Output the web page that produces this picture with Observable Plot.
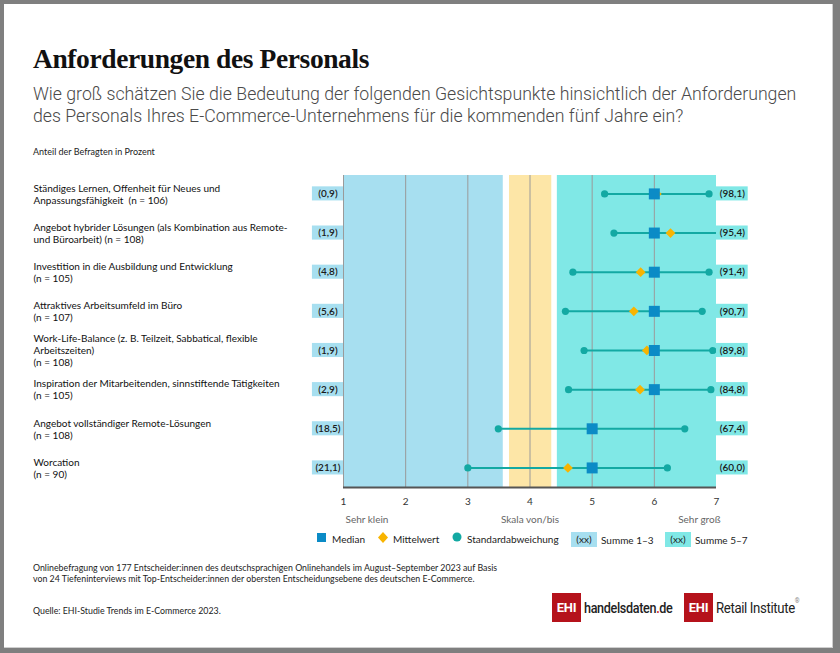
<!DOCTYPE html>
<html>
<head>
<meta charset="utf-8">
<script src="https://cdn.jsdelivr.net/npm/d3@7"></script>
<script src="https://cdn.jsdelivr.net/npm/@observablehq/plot@0.6"></script>
<style>
  body { margin: 0; background: #7f7f7f; }
  #page { position: relative; width: 840px; height: 653px; overflow: hidden; background: #7f7f7f; }
  #panel { position: absolute; left: 4px; top: 4px; width: 828px; height: 643px; background: #fff; border-right: 1px solid #cfcfcf; border-bottom: 1px solid #cfcfcf; }
  .abs { position: absolute; white-space: nowrap; }
  #title { left: 33px; top: 45px; font: bold 27.5px/27px "Liberation Serif", serif; color: #111; letter-spacing: -0.4px; }
  #subtitle { left: 33px; top: 83px; font: 300 17.7px/22px Roboto, sans-serif; color: #4a4a4a; }
  #unit { left: 33px; top: 146px; font: 9px/11px Lato, sans-serif; color: #222; }
  #chart { position: absolute; left: 0; top: 160px; }
  #legend { left: 0; top: 530px; width: 840px; height: 18px; font: 10px Lato, sans-serif; color: #222; }
  .lg { position: absolute; top: 0; line-height: 18px; }
  #foot1 { left: 33px; top: 562px; font: 8.8px/11px Lato, sans-serif; color: #222; }
  #source { left: 33px; top: 605px; font: 8.8px/11px Lato, sans-serif; color: #222; }
  .ehi { position: absolute; top: 593px; width: 29px; height: 29px; background: #b5121b; color: #fff; font: bold 13px/29px Roboto, sans-serif; text-align: center; letter-spacing: -0.3px; }
  .logotext { position: absolute; top: 596px; font: 500 15px/24px Roboto, sans-serif; color: #222; letter-spacing: -0.4px; transform-origin: left center; }
</style>
</head>
<body>
<div id="page">
  <div id="panel"></div>
  <div id="title" class="abs">Anforderungen des Personals</div>
  <div id="subtitle" class="abs">Wie groß schätzen Sie die Bedeutung der folgenden Gesichtspunkte hinsichtlich der Anforderungen<br>des Personals Ihres E-Commerce-Unternehmens für die kommenden fünf Jahre ein?</div>
  <div id="unit" class="abs">Anteil der Befragten in Prozent</div>
  <div id="chart"></div>
  <div id="legend" class="abs"></div>
  <div id="foot1" class="abs">Onlinebefragung von 177 Entscheider:innen des deutschsprachigen Onlinehandels im August–September 2023 auf Basis<br>von 24 Tiefeninterviews mit Top-Entscheider:innen der obersten Entscheidungsebene des deutschen E-Commerce.</div>
  <div id="source" class="abs">Quelle: EHI-Studie Trends im E-Commerce 2023.</div>
  <div class="ehi" style="left:552px">EHI</div>
  <div class="logotext" style="left:584px;transform:scaleX(0.84)">handelsdaten<span style="color:#c8141e">.</span>de</div>
  <div class="ehi" style="left:684px">EHI</div>
  <div class="logotext" style="left:716px;font-weight:400;transform:scaleX(0.88)">Retail Institute<sup style="font-size:7px;color:#888;vertical-align:top;line-height:10px">®</sup></div>
</div>
<script>
// ---- data ----
const categories = [
  "Ständiges Lernen, Offenheit für Neues und\nAnpassungsfähigkeit  (n = 106)",
  "Angebot hybrider Lösungen (als Kombination aus Remote-\nund Büroarbeit) (n = 108)",
  "Investition in die Ausbildung und Entwicklung\n(n = 105)",
  "Attraktives Arbeitsumfeld im Büro\n(n = 107)",
  "Work-Life-Balance (z. B. Teilzeit, Sabbatical, flexible\nArbeitszeiten)\n(n = 108)",
  "Inspiration der Mitarbeitenden, sinnstiftende Tätigkeiten\n(n = 105)",
  "Angebot vollständiger Remote-Lösungen\n(n = 108)",
  "Worcation\n(n = 90)"
];
const median = [6, 6, 6, 6, 6, 6, 5, 5];
const mean   = [6.04, 6.26, 5.78, 5.67, 5.88, 5.77, 4.99, 4.61];
const sdLow  = [5.20, 5.35, 4.69, 4.57, 4.87, 4.62, 3.49, 3.00];
const sdHigh = [6.88, 7.17, 6.88, 6.77, 6.94, 6.91, 6.49, 6.21];
const sum1to3 = [0.9, 1.9, 4.8, 5.6, 1.9, 2.9, 18.5, 21.1];
const sum5to7 = [98.1, 95.4, 91.4, 90.7, 89.8, 84.8, 67.4, 60.0];
const xTicks = [1, 2, 3, 4, 5, 6, 7];
const gridLines = [1, 2, 3, 4, 5, 6];
const scaleNotes = ["Sehr klein", "Skala von/bis", "Sehr groß"];
const scaleNoteAt = [1, 4, 7];
const bandNames = ["Summe 1–3", "Skala von/bis", "Summe 5–7"];
const bandFrom = [1, 3.67, 4.44];
const bandTo = [3.57, 4.35, 7];
const legendItems = ["Median", "Mittelwert", "Standardabweichung", "Summe 1–3", "Summe 5–7"];

// ---- colours ----
const C = {
  blueBand: "#a7dff0", yellowBand: "#fde6a7", tealBand: "#80e8e6",
  median: "#0b8bc6", mean: "#f8b400", sd: "#13a9a3", grid: "#9a9a9a", axis: "#555"
};

const rows = categories.map((c, i) => ({
  i, label: c, median: median[i], mean: mean[i], lo: sdLow[i], hi: sdHigh[i],
  s13: sum1to3[i], s57: sum5to7[i]
}));
const bands = bandNames.map((n, i) => ({name: n, x1: bandFrom[i], x2: bandTo[i]}));
const fmt = v => "(" + v.toFixed(1).replace(".", ",") + ")";
const bottom = 7.5;

const chart = Plot.plot({
  width: 840, height: 400,
  marginLeft: 343, marginRight: 124, marginTop: 15, marginBottom: 73,
  style: {fontFamily: "Lato, sans-serif", fontSize: "10px", background: "transparent", overflow: "visible"},
  x: {domain: [1, 7], axis: null},
  y: {domain: [bottom, -0.47], axis: null},
  color: {domain: bandNames, range: [C.blueBand, C.yellowBand, C.tealBand]},
  marks: [
    Plot.rect(bands, {x1: "x1", x2: "x2", fill: "name"}),
    Plot.ruleX(gridLines, {stroke: C.grid, strokeWidth: 1}),
    Plot.ruleY([bottom], {stroke: C.axis, strokeWidth: 2}),
    // value boxes
    Plot.rect(rows, {x1: 0.5, x2: 1, y1: d => d.i - 0.18, y2: d => d.i + 0.18, fill: C.blueBand}),
    Plot.rect(rows, {x1: 7, x2: 7.51, y1: d => d.i - 0.18, y2: d => d.i + 0.18, fill: C.tealBand}),
    Plot.text(rows, {x: () => 0.75, y: "i", text: d => fmt(d.s13), fontWeight: 600, fill: "#1a1a1a"}),
    Plot.text(rows, {x: () => 7.255, y: "i", text: d => fmt(d.s57), fontWeight: 600, fill: "#1a1a1a"}),
    // category labels
    Plot.text(rows, {x: () => 1, y: "i", dx: -310, text: "label", textAnchor: "start", lineHeight: 1.2, fill: "#111", fontSize: 10}),
    // SD range
    Plot.ruleY(rows, {y: "i", x1: "lo", x2: "hi", stroke: C.sd, strokeWidth: 2, clip: true}),
    Plot.dot(rows, {x: "lo", y: "i", r: 3.6, fill: C.sd, clip: true}),
    Plot.dot(rows, {x: "hi", y: "i", r: 3.6, fill: C.sd, clip: true}),
    Plot.dot(rows, {x: "mean", y: "i", symbol: "diamond2", r: 4.4, fill: C.mean, stroke: "none"}),
    Plot.dot(rows, {x: "median", y: "i", symbol: "square", r: 6.2, fill: C.median, stroke: "none"}),
    // x axis ticks and scale notes
    Plot.text(xTicks, {x: d => d, y: () => bottom, dy: 14, text: d => String(d), fill: "#333", fontSize: 10}),
    Plot.text(scaleNotes, {x: (d, i) => scaleNoteAt[i], y: () => bottom, dy: 32, text: d => d, fill: "#666", fontSize: 10})
  ]
});
document.getElementById("chart").appendChild(chart);

// anchor first scale note at start, last at end
chart.querySelectorAll("text").forEach(t => {
  if (t.textContent === "Sehr klein") { t.setAttribute("text-anchor", "start"); t.setAttribute("dx", "2"); }
  if (t.textContent === "Sehr groß") { t.setAttribute("text-anchor", "end"); t.setAttribute("dx", "4"); }
});

// ---- legend ----
const lg = document.getElementById("legend");
const legendX = [316, 377, 451, 571, 665];
const legendSwatch = [
  `<svg width="12" height="18"><rect x="1" y="3" width="9" height="9" fill="${C.median}"/></svg>`,
  `<svg width="12" height="18"><path d="M6 2 L11 7.5 L6 13 L1 7.5Z" fill="${C.mean}"/></svg>`,
  `<svg width="12" height="18"><circle cx="6" cy="7" r="4.5" fill="${C.sd}"/></svg>`,
  `<span style="display:inline-block;width:26px;height:15px;line-height:15px;text-align:center;background:${C.blueBand};vertical-align:middle">(xx)</span>`,
  `<span style="display:inline-block;width:26px;height:15px;line-height:15px;text-align:center;background:${C.tealBand};vertical-align:middle">(xx)</span>`
];
legendItems.forEach((name, i) => {
  const el = document.createElement("div");
  el.className = "lg";
  el.style.left = legendX[i] + "px";
  el.innerHTML = `<span style="display:inline-flex;align-items:center;gap:4px">${legendSwatch[i]}<span>${name}</span></span>`;
  lg.appendChild(el);
});
</script>
</body>
</html>
